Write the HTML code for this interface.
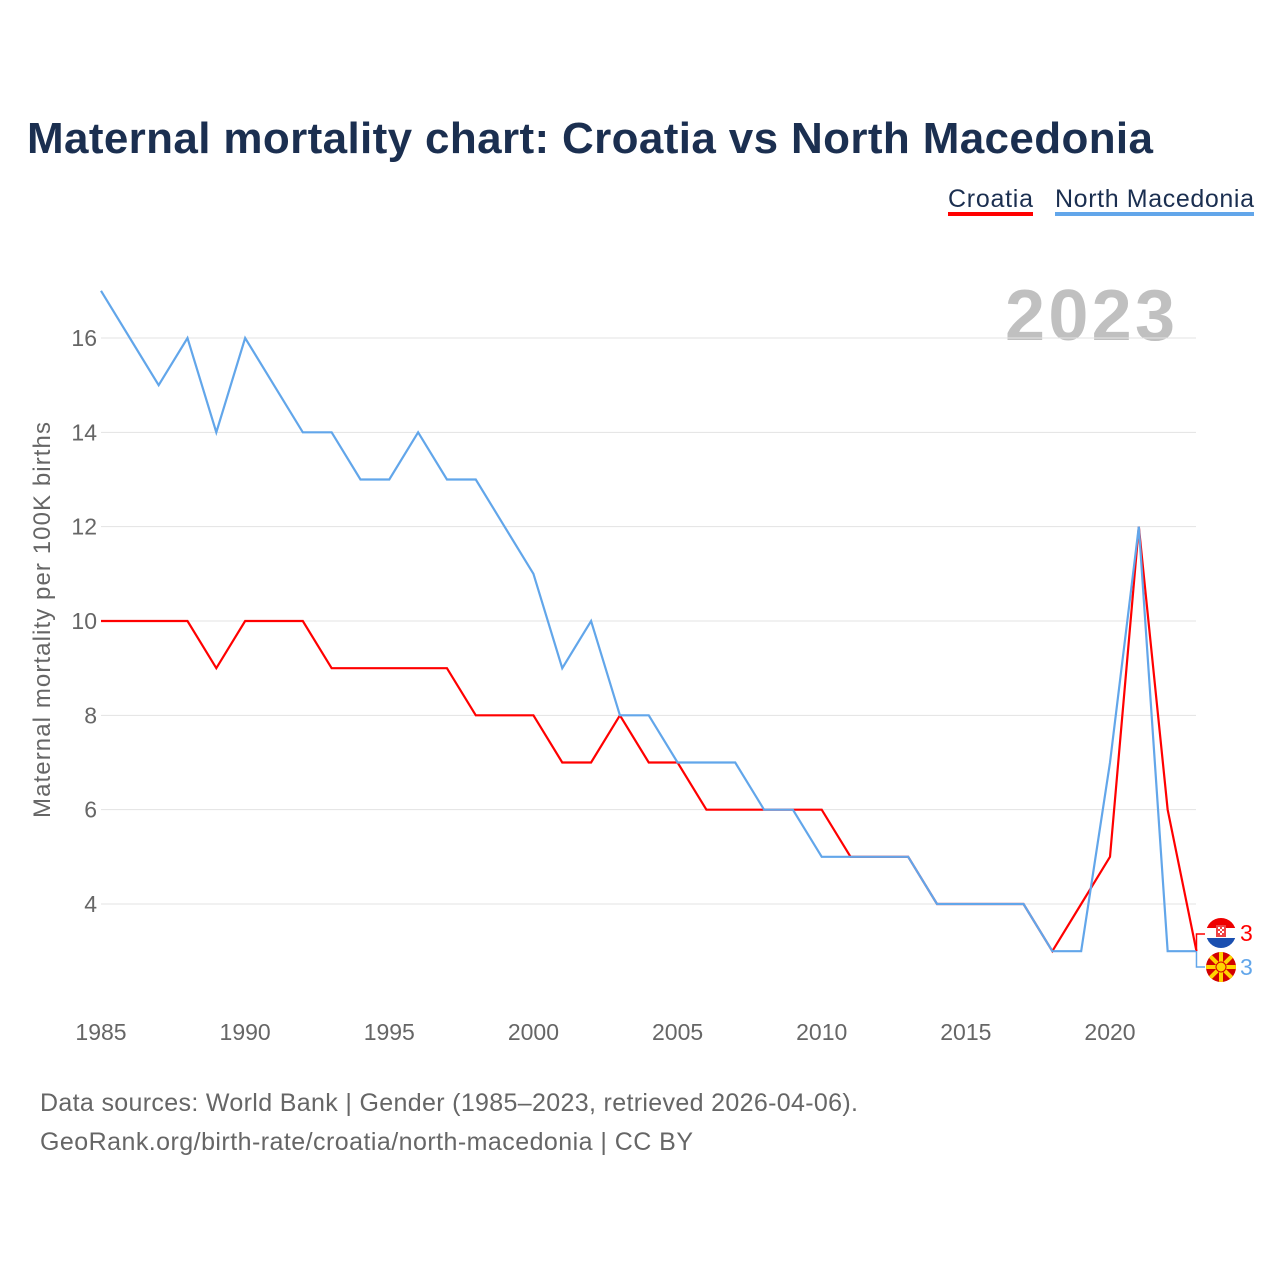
<!DOCTYPE html>
<html><head><meta charset="utf-8"><style>
body{margin:0;background:#fff;font-family:"Liberation Sans",sans-serif}
svg{display:block}
</style></head><body>
<svg id="c" width="1280" height="1280" xmlns="http://www.w3.org/2000/svg">
<text x="27" y="153" font-size="44" font-weight="bold" fill="#1b2f50" textLength="1126">Maternal mortality chart: Croatia vs North Macedonia</text>
<g>
<text x="948" y="207" font-size="25" fill="#1b2f50" textLength="85">Croatia</text>
<rect x="948" y="212" width="85" height="4" fill="#ff0000"/>
<text x="1055" y="207" font-size="25" fill="#1b2f50" textLength="199">North Macedonia</text>
<rect x="1055" y="212" width="199" height="4" fill="#62a6ea"/>
</g>
<text x="1175" y="340" font-size="72" font-weight="bold" fill="#c0c0c0" text-anchor="end" textLength="170">2023</text>
<g id="grid"></g><g id="yt"></g><g id="xt"></g><g id="lines"></g>
<text transform="translate(50,620) rotate(-90)" font-size="24" fill="#666" text-anchor="middle" textLength="396">Maternal mortality per 100K births</text>
<text x="40" y="1111" font-size="25" fill="#666" textLength="818">Data sources: World Bank | Gender (1985–2023, retrieved 2026-04-06).</text>
<text x="40" y="1150" font-size="25" fill="#666" textLength="653">GeoRank.org/birth-rate/croatia/north-macedonia | CC BY</text>
<g id="ends"></g>
</svg>
<script>
const years=[];for(let y=1985;y<=2023;y++)years.push(y);
const croatia=[10,10,10,10,9,10,10,10,9,9,9,9,9,8,8,8,7,7,8,7,7,6,6,6,6,6,5,5,5,4,4,4,4,3,4,5,12,6,3];
const macedonia=[17,16,15,16,14,16,15,14,14,13,13,14,13,13,12,11,9,10,8,8,7,7,7,6,6,5,5,5,5,4,4,4,4,3,3,7,12,3,3];
const yTicks=[4,6,8,10,12,14,16];
const xTicks=[1985,1990,1995,2000,2005,2010,2015,2020];
const NS="http://www.w3.org/2000/svg";
const X=y=>101+(y-1985)*(1110-101)/35;
const Y=v=>338+(16-v)*(904-338)/12;
function mk(t,a,p){const e=document.createElementNS(NS,t);for(const k in a)e.setAttribute(k,a[k]);document.getElementById(p).appendChild(e);return e;}
yTicks.forEach(v=>{
 const l=mk('line',{x1:101,x2:1196,y1:Y(v),y2:Y(v),stroke:'#e3e3e3','stroke-width':1},'grid');
 
 
 const t=mk('text',{x:97,y:Y(v)+8,'font-size':23,fill:'#666','text-anchor':'end'},'yt');t.textContent=v;
 
 
});
xTicks.forEach(v=>{
 const t=mk('text',{x:X(v),y:1040,'font-size':23,fill:'#666','text-anchor':'middle'},'xt');t.textContent=v;
 
 
});
function line(d,c,n){const p=mk('polyline',{points:d.map((v,i)=>X(years[i])+','+Y(v)).join(' '),fill:'none',stroke:c,'stroke-width':2.2,'stroke-linejoin':'miter'},'lines');
 
 }
line(croatia,'#ff0000','line-croatia');
line(macedonia,'#62a6ea','line-north-macedonia');
const xe=X(2023),yc=Y(croatia[38]),ym=Y(macedonia[38]);
const c1=mk('path',{d:`M${xe} ${yc} L${xe} 934 L1205 934`,fill:'none',stroke:'#ff0000','stroke-width':1.5},'ends');


const c2=mk('path',{d:`M${xe} ${ym} L${xe} 967 L1205 967`,fill:'none',stroke:'#62a6ea','stroke-width':1.5},'ends');


const ge=document.getElementById('ends');
ge.insertAdjacentHTML('beforeend',`<defs><clipPath id="cf"><circle cx="1221" cy="933" r="15"/></clipPath><clipPath id="mf"><circle cx="1221" cy="967" r="15"/></clipPath></defs>
<g clip-path="url(#cf)"><rect x="1206" y="918" width="30" height="10" fill="#e00"/><rect x="1206" y="928" width="30" height="10" fill="#fff"/><rect x="1206" y="938" width="30" height="10" fill="#1a4fb0"/><rect x="1216" y="925" width="10" height="12" fill="#e44"/><rect x="1218" y="927" width="2" height="2" fill="#fff"/><rect x="1222" y="927" width="2" height="2" fill="#fff"/><rect x="1220" y="929" width="2" height="2" fill="#fff"/><rect x="1218" y="931" width="2" height="2" fill="#fff"/><rect x="1222" y="931" width="2" height="2" fill="#fff"/><rect x="1220" y="933" width="2" height="2" fill="#fff"/></g>
<g clip-path="url(#mf)"><rect x="1206" y="952" width="30" height="30" fill="#d20000"/><g stroke="#ffd400" stroke-width="4"><line x1="1206" y1="967" x2="1236" y2="967"/><line x1="1221" y1="952" x2="1221" y2="982"/><line x1="1206" y1="952" x2="1236" y2="982"/><line x1="1236" y1="952" x2="1206" y2="982"/></g><circle cx="1221" cy="967" r="5" fill="#ffd400" stroke="#d20000" stroke-width="1"/></g>
<text x="1240" y="941" font-size="23" fill="#ff0000">3</text>
<text x="1240" y="975" font-size="23" fill="#62a6ea">3</text>`);
</script>
</body></html>
